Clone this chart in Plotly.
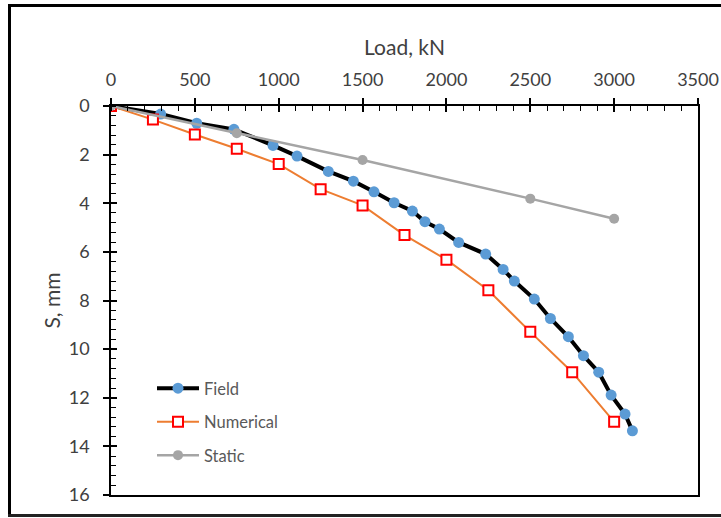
import plotly.graph_objects as go

# Data
field_load = [0, 296, 511, 733, 966, 1109, 1296, 1445, 1568, 1688, 1797, 1872, 1958,
              2073, 2234, 2338, 2405, 2524, 2620, 2727, 2817, 2908, 2982, 3065, 3109]
field_s = [0, 0.33, 0.71, 0.96, 1.62, 2.06, 2.69, 3.09, 3.53, 3.98, 4.32, 4.76, 5.06,
           5.61, 6.09, 6.72, 7.20, 7.94, 8.74, 9.49, 10.27, 10.95, 11.89, 12.67, 13.36]
num_load = [0, 250, 500, 750, 1000, 1250, 1500, 1750, 2000, 2250, 2500, 2750, 3000]
num_s = [0, 0.56, 1.17, 1.76, 2.39, 3.42, 4.09, 5.31, 6.32, 7.58, 9.29, 10.95, 12.99]
static_load = [0, 750, 1500, 2500, 3000]
static_s = [0, 1.12, 2.22, 3.81, 4.64]

W, H = 721, 518
ML, MR, MT, MB = 111, 23, 106, 23
pw, ph = W - ML - MR, H - MT - MB

def px2x(px):
    return (px - ML) / pw

def px2y(py):
    return 1 - (py - MT) / ph

FONT = "Lato"
TXT = "#404040"

fig = go.Figure()
fig.add_trace(go.Scatter(x=field_load, y=field_s, name="Field", mode="lines+markers",
                         line=dict(color="black", width=4),
                         marker=dict(symbol="circle", size=11, color="#5B9BD5"),
                         legendgroup="a"))
fig.add_trace(go.Scatter(x=num_load, y=num_s, name="Numerical", mode="lines+markers",
                         line=dict(color="#ED7D31", width=2),
                         marker=dict(symbol="square", size=10, color="white",
                                     line=dict(color="#FF0000", width=2)),
                         legendgroup="b"))
fig.add_trace(go.Scatter(x=static_load, y=static_s, name="Static", mode="lines+markers",
                         line=dict(color="#A5A5A5", width=2.5),
                         marker=dict(symbol="circle", size=10, color="#A5A5A5"),
                         legendgroup="c"))
# helper trace for the overlay axes (crossing tick marks)
fig.add_trace(go.Scatter(x=[0], y=[0], xaxis="x2", yaxis="y2", mode="markers",
                         marker=dict(opacity=0), showlegend=False, hoverinfo="skip"))

fig.update_layout(
    width=W, height=H,
    margin=dict(l=ML, r=MR, t=MT, b=MB, autoexpand=False),
    paper_bgcolor="white", plot_bgcolor="white",
    font=dict(family=FONT, size=14, color=TXT),
    xaxis=dict(side="top", range=[0, 3500], dtick=500, tick0=0, automargin=False,
               showgrid=False, zeroline=False,
               showline=True, linecolor="black", linewidth=1.5, mirror=True,
               ticks="outside", ticklen=6, tickwidth=1.5, tickcolor="black",
               ticklabelstandoff=5,
               minor=dict(ticks="inside", dtick=100, ticklen=5, tickwidth=1.2,
                          tickcolor="black", showgrid=False),
               tickfont=dict(family=FONT, size=18, color=TXT),
               title=dict(text="Load, kN", font=dict(family=FONT, size=21, color=TXT),
                          standoff=7)),
    yaxis=dict(range=[16, 0], dtick=2, tick0=0, automargin=False,
               showgrid=False, zeroline=False,
               showline=True, linecolor="black", linewidth=1.5, mirror=True,
               ticks="outside", ticklen=6, tickwidth=1.5, tickcolor="black",
               ticklabelstandoff=10,
               minor=dict(ticks="inside", dtick=0.4, ticklen=5, tickwidth=1.2,
                          tickcolor="black", showgrid=False),
               tickfont=dict(family=FONT, size=18, color=TXT),
               title=dict(text="S, mm", font=dict(family=FONT, size=21, color=TXT),
                          standoff=2)),
    xaxis2=dict(overlaying="x", side="top", range=[0, 3500], dtick=500, tick0=0,
                showgrid=False, zeroline=False, showline=False, automargin=False,
                ticks="inside", ticklen=6, tickwidth=1.5, tickcolor="black",
                showticklabels=False),
    yaxis2=dict(overlaying="y", side="left", range=[16, 0], dtick=2, tick0=0,
                showgrid=False, zeroline=False, showline=False, automargin=False,
                ticks="inside", ticklen=6, tickwidth=1.5, tickcolor="black",
                showticklabels=False),
    showlegend=True,
    legend=dict(x=px2x(152), y=px2y(371), xanchor="left", yanchor="top",
                bgcolor="rgba(0,0,0,0)", traceorder="grouped", tracegroupgap=9,
                font=dict(family=FONT, size=16.5, color="#595959"),
                itemwidth=42),
)

# outer chart frame (top, left, bottom edges; right edge lies outside the picture)
frame = dict(color="black", width=3)
fig.add_shape(type="line", xref="paper", yref="paper",
              x0=px2x(9.5), x1=px2x(740), y0=px2y(5.5), y1=px2y(5.5), line=frame)
fig.add_shape(type="line", xref="paper", yref="paper",
              x0=px2x(9.5), x1=px2x(9.5), y0=px2y(4), y1=px2y(517), line=frame)
fig.add_shape(type="line", xref="paper", yref="paper",
              x0=px2x(8), x1=px2x(740), y0=px2y(515.5), y1=px2y(515.5),
              line=dict(color="#222222", width=3))

fig.write_html("out.html")
